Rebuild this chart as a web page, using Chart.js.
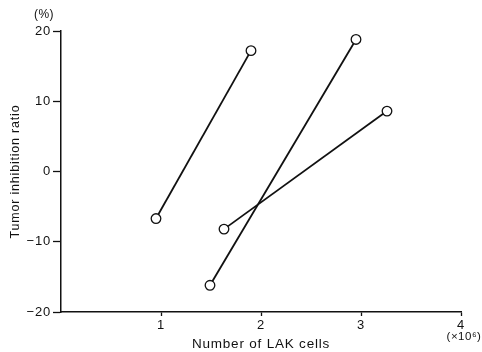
<!DOCTYPE html>
<html><head><meta charset="utf-8">
<script src="https://cdn.jsdelivr.net/npm/chart.js@4"></script>
<style>html,body{margin:0;padding:0;background:#fff}#w{width:482px;height:352px}</style>
</head><body><div id="w"><canvas id="c"></canvas></div>
<script>
const seriesA = [{x:0.95,y:-6.7},{x:1.90,y:17.2}];
const seriesB = [{x:1.49,y:-16.2},{x:2.95,y:18.8}];
const seriesC = [{x:1.63,y:-8.2},{x:3.26,y:8.6}];
const xTicks = [1,2,3,4];
const yTicks = [-20,-10,0,10,20];
const yUnit = '(%)';
const xUnit = '(×10⁶)';
const FONT = 'Liberation Sans, Arial, sans-serif';

function ds(data){return {data, showLine:true, borderColor:'#111', borderWidth:1.8,
  pointRadius:4.8, pointHoverRadius:4.8, pointBackgroundColor:'#fff', pointBorderColor:'#111', pointBorderWidth:1.3};}

const spacing = {id:'spacing', beforeDraw(ch){ ch.ctx.letterSpacing='0.8px'; }};
const units = {id:'units', afterDraw(ch){
  const c=ch.ctx, xs=ch.scales.x, ys=ch.scales.y;
  c.save(); c.letterSpacing='0.5px'; c.fillStyle='#111'; c.textAlign='center'; c.textBaseline='middle';
  c.font='12px '+FONT;
  c.fillText(yUnit, 44, ys.getPixelForValue(20)-16);
  c.font='11.5px '+FONT;
  c.fillText(xUnit, xs.getPixelForValue(4)+3, 337);
  c.restore();
}};

new Chart(document.getElementById('c'), {
  type:'scatter',
  data:{datasets:[ds(seriesA),ds(seriesB),ds(seriesC)]},
  plugins:[spacing, units],
  options:{
    responsive:true, maintainAspectRatio:false, animation:false,
    layout:{padding:{left:0,right:21,top:31,bottom:0}},
    plugins:{legend:{display:false},tooltip:{enabled:false}},
    scales:{
      x:{type:'linear', min:0, max:4,
        afterBuildTicks(s){s.ticks=xTicks.map(v=>({value:v}));},
        afterFit(s){s.height=40;},
        border:{color:'#111',width:1.5},
        grid:{display:true,drawOnChartArea:false,drawTicks:true,tickLength:4,tickColor:'#111',tickWidth:1.3},
        ticks:{color:'#111',font:{family:FONT,size:13},padding:2,maxRotation:0},
        title:{display:true,text:'Number of LAK cells',color:'#111',font:{family:FONT,size:13.5},padding:{top:3,bottom:0}}
      },
      y:{type:'linear', min:-20, max:20,
        afterBuildTicks(s){s.ticks=yTicks.map(v=>({value:v}));},
        afterFit(s){s.width=61;},
        border:{color:'#111',width:1.5},
        grid:{display:true,drawOnChartArea:false,drawTicks:true,tickLength:8,tickColor:'#111',tickWidth:1.3},
        ticks:{color:'#111',font:{family:FONT,size:13},padding:2,callback:v=>v<0?'\u2212'+Math.abs(v):String(v)},
        title:{display:true,text:'Tumor inhibition ratio',color:'#111',font:{family:FONT,size:12.5},padding:{top:8,bottom:0}}
      }
    }
  }
});
</script></body></html>
